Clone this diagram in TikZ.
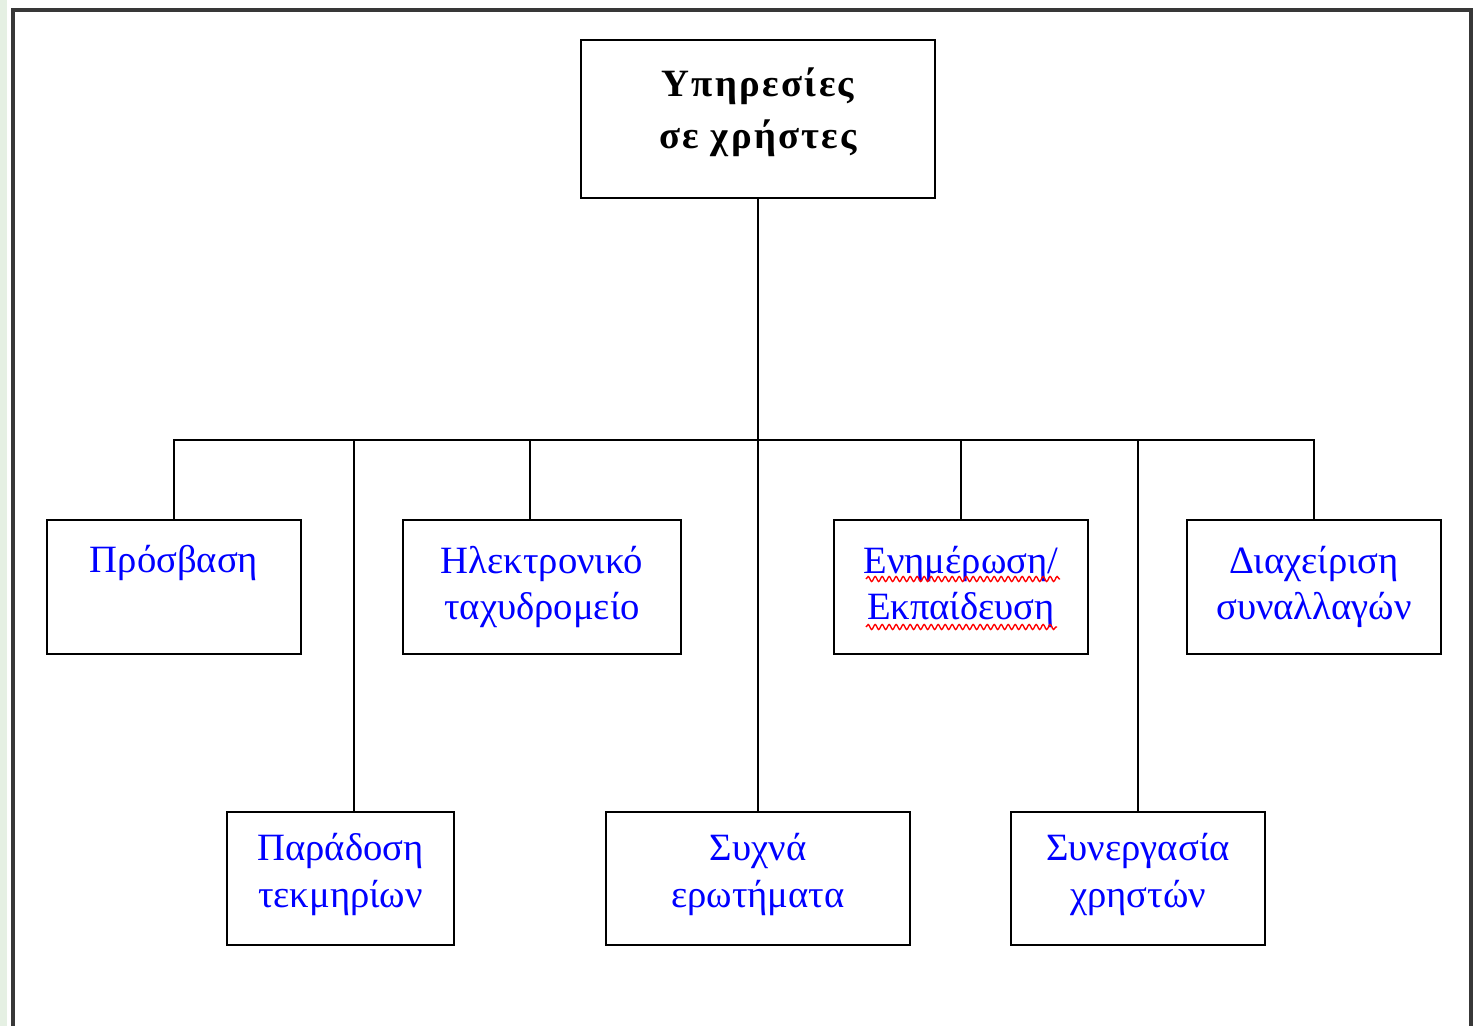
\documentclass[tikz,border=0pt]{standalone}
\usepackage{fontspec}
\setmainfont{Liberation Serif}
\newfontfamily\headfont[LetterSpace=6]{Liberation Serif}
\usetikzlibrary{decorations.pathmorphing}
\tikzset{box/.style = {draw, line width = 1.1pt, align = center, inner sep = 0, text = mblue, font = \fontsize{22}{26.5}\selectfont}}
\tikzset{link/.style = {line width = 1.1pt}}
\tikzset{squiggle/.style = {draw = red, line width = 0.8pt, decorate, decoration = {snake, amplitude = 0.05cm, segment length = 0.14cm}}}
\definecolor{mblue}{rgb}{0, 0, 1}
\definecolor{mgreen}{rgb}{0.9, 0.94, 0.89}
\definecolor{mframe}{rgb}{0.22, 0.22, 0.22}

\begin{document}
\begin{tikzpicture}[x = 0.02cm, y = -0.02cm]
          \useasboundingbox (0, 0) rectangle (1473, 1026);
          \fill [mgreen] (0, 0) rectangle (7, 1026);
          \draw [mframe, line width = 1.9pt] (13, 1026) -- (13, 10) -- (1471, 10) -- (1471, 1026);

          \node [box, minimum width = 7.08cm, minimum height = 3.16cm, text depth = 0.45cm, text = black, font = \headfont\bfseries\fontsize{22}{29.5}\selectfont] (top) at (758, 119) {Υπηρεσίες\\σε χρήστες};

          \node [box, minimum width = 5.08cm, minimum height = 2.68cm, text depth = 0.2cm] (access) at (174, 587) {Πρόσβαση\\~};
          \node [box, minimum width = 5.56cm, minimum height = 2.68cm] (email) at (542, 587) {Ηλεκτρονικό\\ταχυδρομείο};
          \node [box, minimum width = 5.08cm, minimum height = 2.68cm] (edu) at (961, 587) {Ενημέρωση/\\Εκπαίδευση};
          \node [box, minimum width = 5.08cm, minimum height = 2.68cm] (trans) at (1314, 587) {Διαχείριση\\συναλλαγών};

          \node [box, minimum width = 4.54cm, minimum height = 2.66cm, text depth = 0.33cm] (deliv) at (340.5, 878.5) {Παράδοση\\τεκμηρίων};
          \node [box, minimum width = 6.08cm, minimum height = 2.66cm, text depth = 0.33cm] (faq) at (758, 878.5) {Συχνά\\ερωτήματα};
          \node [box, minimum width = 5.08cm, minimum height = 2.66cm, text depth = 0.33cm] (collab) at (1138, 878.5) {Συνεργασία\\χρηστών};

          \coordinate (bus) at (758, 440);
          \coordinate (delivtop) at ([xshift = 0.27cm] deliv.north);
          \coordinate (emailtop) at ([xshift = -0.24cm] email.north);

          \draw [link] (top.south) -- (bus) -- (bus |- faq.north);
          \draw [link] (access.north) |- (trans.north |- bus) -- (trans.north);
          \draw [link] (delivtop) -- (delivtop |- bus);
          \draw [link] (emailtop) -- (emailtop |- bus);
          \draw [link] (edu.north) -- (edu.north |- bus);
          \draw [link] (collab.north) -- (collab.north |- bus);

          \draw [squiggle] (866, 579) -- (1060, 579);
          \draw [squiggle] (866, 627) -- (1057, 627);
        \end{tikzpicture}
\end{document}
